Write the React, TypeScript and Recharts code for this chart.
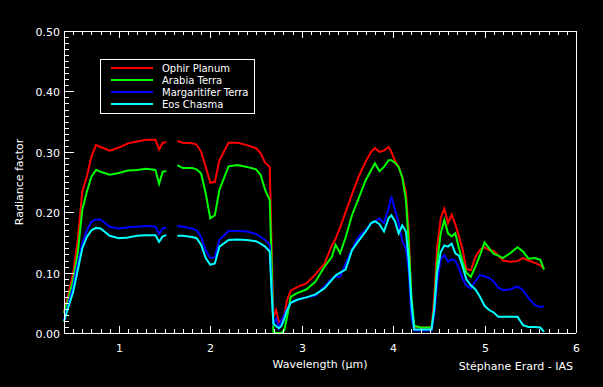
import { Legend, Line, LineChart, XAxis, YAxis } from "recharts";

// wavelength grid (µm) and radiance factor
const wavelengths = [
  0.4, 0.45, 0.5, 0.55, 0.6, 0.65, 0.7, 0.75, 0.8, 0.9, 1.0, 1.1, 1.2, 1.3, 1.4, 1.44, 1.48, 1.52, 1.58,
  1.64, 1.7, 1.8, 1.85, 1.9, 1.95, 2.0, 2.05, 2.1, 2.2, 2.3, 2.4, 2.5, 2.55, 2.6, 2.65, 2.67, 2.69, 2.72,
  2.75, 2.78, 2.81, 2.84, 2.88, 2.95, 3.05, 3.15, 3.25, 3.33, 3.37, 3.42, 3.48, 3.55, 3.62, 3.7, 3.76,
  3.8, 3.85, 3.9, 3.95, 3.98, 4.02, 4.06, 4.1, 4.14, 4.17, 4.2, 4.23, 4.3, 4.36, 4.42, 4.45, 4.48, 4.52,
  4.56, 4.6, 4.64, 4.68, 4.72, 4.76, 4.8, 4.85, 4.9, 4.95, 5.0, 5.05, 5.1, 5.15, 5.2, 5.28, 5.36, 5.42,
  5.48, 5.55, 5.61, 5.65,
];

const ophirPlanum = [
  0.035, 0.066, 0.099, 0.154, 0.234, 0.259, 0.292, 0.311, 0.308, 0.302, 0.307, 0.314, 0.317, 0.32, 0.32,
  0.304, 0.315, 0.316, null, 0.318, 0.315, 0.314, 0.312, 0.3, 0.275, 0.249, 0.25, 0.286, 0.315, 0.315,
  0.311, 0.306, 0.298, 0.282, 0.275, 0.15, 0.027, 0.038, 0.018, 0.02, 0.03, 0.055, 0.07, 0.076, 0.082,
  0.097, 0.115, 0.145, 0.156, 0.175, 0.2, 0.23, 0.258, 0.284, 0.3, 0.306, 0.3, 0.302, 0.308, 0.3, 0.285,
  0.275, 0.258, 0.232, 0.17, 0.05, 0.01, 0.009, 0.009, 0.009, 0.06, 0.14, 0.19, 0.206, 0.182, 0.196,
  0.18, 0.16, 0.138, 0.106, 0.104, 0.126, 0.138, 0.142, 0.137, 0.136, 0.128, 0.12, 0.118, 0.119, 0.124,
  0.12, 0.116, 0.112, 0.107,
];

const arabiaTerra = [
  0.033, 0.057, 0.088, 0.132, 0.204, 0.234, 0.259, 0.27, 0.267, 0.262, 0.265, 0.269, 0.27, 0.272, 0.27,
  0.247, 0.267, 0.268, null, 0.278, 0.273, 0.273, 0.271, 0.264, 0.231, 0.19, 0.195, 0.237, 0.276, 0.278,
  0.275, 0.271, 0.262, 0.237, 0.22, 0.12, 0.002, 0.0, 0.0, 0.0, 0.005, 0.027, 0.06, 0.066, 0.072, 0.085,
  0.11, 0.126, 0.146, 0.132, 0.158, 0.195, 0.222, 0.253, 0.27, 0.281, 0.268, 0.275, 0.286, 0.286, 0.282,
  0.275, 0.258, 0.22, 0.15, 0.06, 0.012, 0.009, 0.009, 0.009, 0.04, 0.115, 0.165, 0.187, 0.165, 0.16,
  0.165, 0.14, 0.118, 0.1, 0.093, 0.11, 0.129, 0.15, 0.14, 0.131, 0.128, 0.124, 0.132, 0.142, 0.135,
  0.123, 0.124, 0.121, 0.105,
];

const margaritiferTerra = [
  0.022, 0.049, 0.077, 0.115, 0.148, 0.17, 0.184, 0.188, 0.188, 0.176, 0.173, 0.175, 0.176, 0.177, 0.176,
  0.164, 0.173, 0.174, null, 0.177, 0.176, 0.173, 0.17, 0.159, 0.137, 0.124, 0.126, 0.154, 0.169, 0.169,
  0.168, 0.164, 0.159, 0.154, 0.146, 0.08, 0.016, 0.024, 0.008, 0.022, 0.03, 0.04, 0.05, 0.055, 0.059,
  0.062, 0.077, 0.09, 0.093, 0.093, 0.115, 0.138, 0.159, 0.17, 0.182, 0.184, 0.19, 0.182, 0.206, 0.226,
  0.204, 0.182, 0.152, 0.14, 0.104, 0.027, 0.004, 0.004, 0.004, 0.004, 0.03, 0.082, 0.123, 0.129, 0.118,
  0.122, 0.12, 0.107, 0.09, 0.079, 0.074, 0.086, 0.096, 0.094, 0.091, 0.085, 0.075, 0.071, 0.072, 0.077,
  0.071, 0.058, 0.046, 0.043, 0.044,
];

const eosChasma = [
  0.019, 0.044, 0.068, 0.104, 0.14, 0.159, 0.17, 0.174, 0.173, 0.161, 0.157, 0.158, 0.161, 0.162, 0.162,
  0.151, 0.16, 0.162, null, 0.161, 0.161, 0.159, 0.157, 0.146, 0.124, 0.113, 0.115, 0.143, 0.154, 0.155,
  0.154, 0.152, 0.148, 0.143, 0.135, 0.07, 0.016, 0.011, 0.008, 0.012, 0.024, 0.038, 0.05, 0.055, 0.059,
  0.064, 0.074, 0.088, 0.095, 0.1, 0.105, 0.137, 0.152, 0.168, 0.182, 0.185, 0.18, 0.168, 0.19, 0.195,
  0.185, 0.165, 0.178, 0.168, 0.121, 0.049, 0.006, 0.006, 0.006, 0.006, 0.04, 0.099, 0.134, 0.145, 0.143,
  0.148, 0.132, 0.128, 0.11, 0.089, 0.079, 0.072, 0.06, 0.045, 0.038, 0.034, 0.027, 0.027, 0.027, 0.027,
  0.013, 0.01, 0.01, 0.009, 0.002,
];

const seriesNames = ["Ophir Planum", "Arabia Terra", "Margaritifer Terra", "Eos Chasma"];
const seriesColors = ["#ff0000", "#00ff00", "#0000ff", "#00ffff"];

const xTicks = Array.from({ length: 57 }, (_, i) => Math.round((0.4 + i * 0.1) * 10) / 10);
const yTicks = Array.from({ length: 51 }, (_, i) => i / 100);

const data = wavelengths.map((w, i) => ({
  w,
  s0: ophirPlanum[i],
  s1: arabiaTerra[i],
  s2: margaritiferTerra[i],
  s3: eosChasma[i],
}));

const FONT = "DejaVu Sans, sans-serif";

const isMajor = (v: number, step: number) => Math.abs(v / step - Math.round(v / step)) < 1e-6;
const px = (n: number) => Math.round(n) + 0.5;

function XTick(props: any) {
  const x = px(Number(props.x));
  const y = Math.round(Number(props.y));
  const v = Number(props.payload.value);
  const side = props.side;
  const major = isMajor(v, 1);
  const len = major ? 7 : 4;
  const dir = side === "bottom" ? -1 : 1;
  return (
    <g>
      <line x1={x} x2={x} y1={y} y2={y + dir * len} stroke="#ffffff" strokeWidth={1} shapeRendering="crispEdges" />
      {side === "bottom" && major && (
        <text x={x} y={y + 19} textAnchor="middle" fill="#fff" fontSize={11} fontFamily={FONT}>
          {String(v)}
        </text>
      )}
    </g>
  );
}

function YTick(props: any) {
  const x = Math.round(Number(props.x));
  const y = px(Number(props.y));
  const v = Number(props.payload.value);
  const side = props.side;
  const major = isMajor(v, 0.1);
  const len = major ? 10 : 5;
  const dir = side === "left" ? 1 : -1;
  return (
    <g>
      <line x1={x} x2={x + dir * len} y1={y} y2={y} stroke="#ffffff" strokeWidth={1} shapeRendering="crispEdges" />
      {side === "left" && major && (
        <text x={x - 4} y={y + 4} textAnchor="end" fill="#fff" fontSize={11} fontFamily={FONT}>
          {v.toFixed(2)}
        </text>
      )}
    </g>
  );
}

function LegendBox() {
  return (
    <svg width={156} height={56} style={{ display: "block" }}>
      <rect x={0.5} y={0.5} width={154} height={54} fill="#000" stroke="#fff" strokeWidth={1} />
      {seriesNames.map((name, i) => (
        <g key={name}>
          <line x1={11} x2={53} y1={9 + i * 12} y2={9 + i * 12} stroke={seriesColors[i]} strokeWidth={2} />
          <text x={62} y={13 + i * 12} fill="#fff" fontSize={10} fontFamily={FONT}>
            {name}
          </text>
        </g>
      ))}
    </svg>
  );
}

const axisLine = { stroke: "#fff", shapeRendering: "crispEdges" };

export default function App() {
  return (
    <div style={{ position: "absolute", left: 0, top: 0, width: 603, height: 387, background: "#000" }}>
      <LineChart width={603} height={387} data={data} margin={{ top: 30, right: 26, bottom: 0, left: 0 }}>
        <XAxis
          dataKey="w"
          type="number"
          domain={[0.4, 6]}
          ticks={xTicks}
          interval={0}
          height={54}
          tickSize={0}
          tickMargin={0}
          tickLine={false}
          axisLine={axisLine}
          tick={(p: any) => <XTick {...p} side="bottom" />}
          label={{
            content: ({ viewBox }: any) => (
              <g>
                <text x={viewBox.x + viewBox.width / 2} y={viewBox.y + 35} textAnchor="middle" fill="#fff" fontSize={11} fontFamily={FONT}>
                  Wavelength (µm)
                </text>
                <text x={viewBox.x + viewBox.width - 3} y={viewBox.y + 37} textAnchor="end" fill="#fff" fontSize={11} fontFamily={FONT}>
                  Stéphane Erard - IAS
                </text>
              </g>
            ),
          }}
        />
        <XAxis
          xAxisId="top"
          dataKey="w"
          type="number"
          orientation="top"
          domain={[0.4, 6]}
          ticks={xTicks}
          interval={0}
          height={1}
          tickSize={0}
          tickMargin={0}
          tickLine={false}
          axisLine={axisLine}
          tick={(p: any) => <XTick {...p} side="top" />}
        />
        <YAxis
          type="number"
          domain={[0, 0.5]}
          ticks={yTicks}
          interval={0}
          width={64}
          tickSize={0}
          tickMargin={0}
          tickLine={false}
          axisLine={axisLine}
          tick={(p: any) => <YTick {...p} side="left" />}
          label={{
            content: ({ viewBox }: any) => {
              const cx = 23;
              const cy = viewBox.y + viewBox.height / 2;
              return (
                <text x={cx} y={cy} transform={`rotate(-90 ${cx} ${cy})`} textAnchor="middle" fill="#fff" fontSize={11} fontFamily={FONT}>
                  Radiance factor
                </text>
              );
            },
          }}
        />
        <YAxis
          yAxisId="right"
          orientation="right"
          type="number"
          domain={[0, 0.5]}
          ticks={yTicks}
          interval={0}
          width={1}
          tickSize={0}
          tickMargin={0}
          tickLine={false}
          axisLine={axisLine}
          tick={(p: any) => <YTick {...p} side="right" />}
        />
        <Legend
          layout="vertical"
          align="center"
          verticalAlign="middle"
          content={() => <LegendBox />}
          wrapperStyle={{ left: 100, top: 59, width: 156, height: 56 }}
        />
        {seriesNames.map((name, i) => (
          <Line
            key={name}
            dataKey={`s${i}`}
            name={name}
            stroke={seriesColors[i]}
            strokeWidth={2}
            dot={false}
            type="linear"
            isAnimationActive={false}
          />
        ))}
      </LineChart>
    </div>
  );
}
